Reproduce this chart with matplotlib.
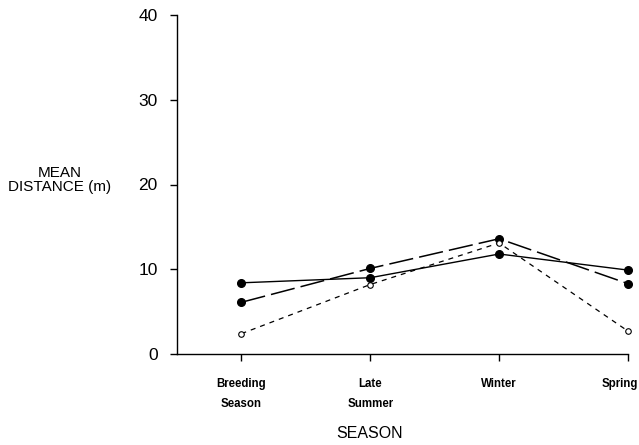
import matplotlib
matplotlib.use("Agg")
import matplotlib.pyplot as plt
import matplotlib.transforms as mtransforms

plt.rcParams['font.family'] = ['Liberation Sans', 'DejaVu Sans']

seasons = ["Breeding\nSeason", "Late\nSummer", "Winter", "Spring"]
series_a = [8.4, 9.0, 11.8, 9.9]    # solid, filled circles
series_b = [6.1, 10.1, 13.6, 8.3]   # long dash, filled circles
series_c = [2.4, 8.2, 13.1, 2.7]    # short dash, open circles
y_ticks = [0, 10, 20, 30, 40]

fig = plt.figure(figsize=(6.39, 4.45), dpi=100)
ax = fig.add_axes([177/639, 1-354/445, (628-177)/639, (354-15)/445])

x = list(range(len(seasons)))
ax.plot(x, series_a, color='black', lw=1.0, ls='-', marker='o', ms=5.5,
        mfc='black', mec='black', clip_on=False)
ax.plot(x, series_b, color='black', lw=1.1, dashes=(16, 4), marker='o', ms=5.5,
        mfc='black', mec='black', clip_on=False)
ax.plot(x, series_c, color='black', lw=0.9, dashes=(4, 4), marker='o', ms=4,
        mfc='white', mec='black', mew=0.8, clip_on=False, zorder=3)

ax.set_xlim(-0.5, 3.0)
ax.set_ylim(0, 40)
ax.set_yticks(y_ticks)
ax.set_yticklabels([str(v) for v in y_ticks], fontsize=12.5)
ax.set_xticks(x)
ax.set_xticklabels(seasons, fontsize=8.3, fontweight='bold', linespacing=1.9, va='top')

for s in ['top', 'right']:
    ax.spines[s].set_visible(False)
for s in ['left', 'bottom']:
    ax.spines[s].set_linewidth(1.0)
ax.tick_params(axis='y', direction='out', length=5, width=1, pad=9)
ax.tick_params(axis='x', direction='out', length=5, width=1, pad=12)

# shift last tick label left so it stays inside the figure
lbl = ax.get_xticklabels()[-1]
lbl.set_transform(lbl.get_transform() + mtransforms.ScaledTranslation(-8/100, 0, fig.dpi_scale_trans))

fig.text(60/639, 1-180/445, "MEAN\nDISTANCE (m)", ha='center', va='center', fontsize=11, linespacing=1.0)
fig.text(370/639, 1-434/445, "SEASON", ha='center', va='center', fontsize=11.5)

fig.savefig("out.png", dpi=100)
